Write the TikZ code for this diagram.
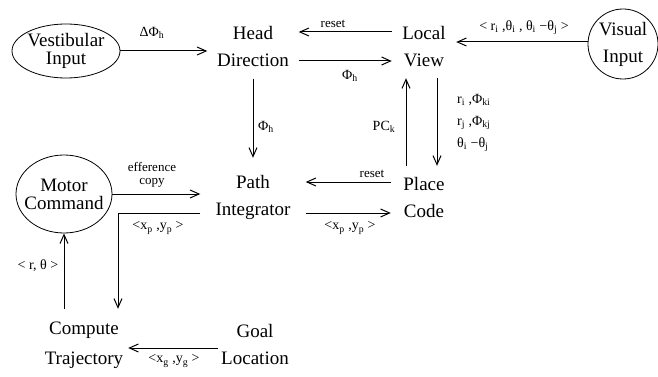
\documentclass[tikz,border=0pt]{standalone}
\usepackage{fontspec}
\setmainfont{Liberation Serif}
\usetikzlibrary{arrows.meta,shapes.geometric,positioning}

\newcommand{\idx}[1]{\textsubscript{#1}}

\begin{document}
\begin{tikzpicture}[
    x=1pt, y=-1pt,
    box/.style={align=center, font=\fontsize{19}{27}\selectfont, inner sep=0pt},
    unit/.style={ellipse, draw, line width=0.8pt, align=center, font=\fontsize{19}{18}\selectfont, inner sep=0pt},
    lab/.style={font=\fontsize{13}{13}\selectfont, inner sep=0pt},
    sym/.style={font=\fontsize{14}{22}\selectfont, inner sep=0pt},
    link/.style={-{Straight Barb[length=9pt,width=8pt]}, line width=1pt}
]
\useasboundingbox (0,0) rectangle (658,377);

% Modules
\node[unit, minimum width=108, minimum height=54, inner xsep=-1.5pt] (vest) at (66,51) {Vestibular\\Input};
\node[box, minimum width=91, minimum height=63] (head) at (253,47) {Head\\Direction};
\node[box, minimum width=64, minimum height=62] (local) at (424,47) {Local\\View};
\node[circle, draw, line width=0.8pt, minimum size=70, inner sep=0pt, align=center,
      font=\fontsize{19}{27}\selectfont] (visual) at (623,44) {Visual\\Input};
\node[unit, minimum width=96, minimum height=78, inner xsep=-6pt] (motor) at (64,194) {Motor\\Command};
\node[box, minimum width=105, minimum height=78] (path) at (253,197) {Path\\Integrator};
\node[box, minimum width=66, minimum height=62] (place) at (424,197) {Place\\Code};
\node[box, minimum width=88, minimum height=72, font=\fontsize{19}{30}\selectfont] (compute) at (84,345) {Compute\\Trajectory};
\node[box, minimum width=74, minimum height=54] (goal) at (255,344) {Goal\\Location};

% Connectors
\draw[link] (vest.east) -- (vest.east -| head.west);
\draw[link] ([yshift=15]local.west) -- ([yshift=15]local.west -| head.east);
\draw[link] ([yshift=-14]head.east) -- ([yshift=-14]head.east -| local.west);
\draw[link] ([yshift=2]visual.west) -- ([yshift=2]visual.west -| local.east);
\draw[link] (head.south) -- (path.north);
\draw[link] ([xshift=-18]place.north) -- ([xshift=-18]place.north |- local.south);
\draw[link] ([xshift=13]local.south) -- ([xshift=13]local.south |- place.north);
\draw[link] (motor.east) -- (motor.east -| path.west);
\draw[link] ([yshift=15]place.west) -- ([yshift=15]place.west -| path.east);
\draw[link] ([yshift=-16]path.east) -- ([yshift=-16]path.east -| place.west);
\draw[link] ([yshift=-16]path.west) -| ([xshift=34]compute.north);
\draw[link] ([xshift=-20]compute.north) -- (motor.south);
\draw[link] ([yshift=-4]goal.west) -- ([yshift=-4]goal.west -| compute.east);

% Labels
\node[sym] (dphi) at (152,33) {ΔΦ\idx{h}};
\node[lab] (reset1) at (333,24) {reset};
\node[sym] (phi1) at (350,76) {Φ\idx{h}};
\node[sym] (vislab) at (524,28) {< r\idx{i} ,θ\idx{i} , θ\idx{i} −θ\idx{j} >};
\node[sym] (phi2) at (266,127) {Φ\idx{h}};
\node[sym] (pck) at (384,127) {PC\idx{k}};
\node[sym, align=left, anchor=west] (rlab) at (457,123) {r\idx{i} ,Φ\idx{ki}\\r\idx{j} ,Φ\idx{kj}\\θ\idx{i} −θ\idx{j}};
\node[lab, align=center] (eff) at (152,175) {efference\\copy};
\node[lab] (reset2) at (372,174) {reset};
\node[sym] (xp1) at (158,228) {<x\idx{p} ,y\idx{p} >};
\node[sym] (xp2) at (350,228) {<x\idx{p} ,y\idx{p} >};
\node[sym] (rth) at (38,266) {< r, θ >};
\node[sym] (xg) at (174,361) {<x\idx{g} ,y\idx{g} >};

\end{tikzpicture}
\end{document}
